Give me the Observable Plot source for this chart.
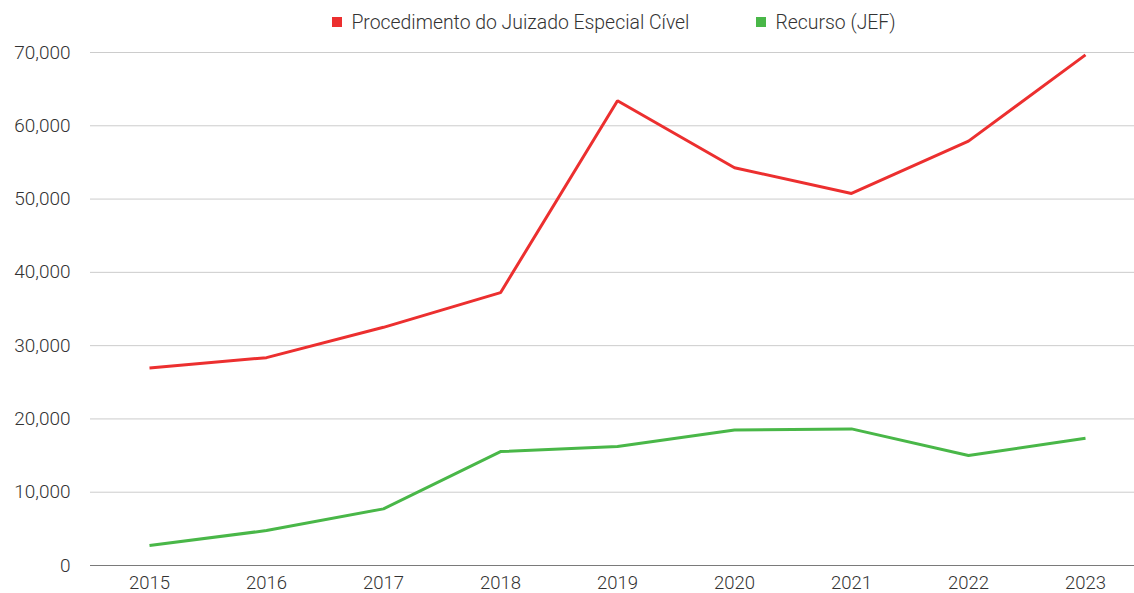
<!DOCTYPE html>
<html>
<head>
<meta charset="utf-8">
<script src="https://cdn.jsdelivr.net/npm/d3@7"></script>
<script src="https://cdn.jsdelivr.net/npm/@observablehq/plot@0.6"></script>
<style>
  html, body { margin: 0; padding: 0; background: #fff; }
  body { width: 1134px; height: 593px; overflow: hidden; font-family: Roboto, "Noto Sans", sans-serif; }
  #legend { height: 42px; box-sizing: border-box; padding-left: 94px; padding-top: 2px; display: flex; justify-content: center; align-items: center; gap: 67px; font-size: 19.4px; font-weight: 300; color: #333; }
  #legend .item { display: flex; align-items: center; }
  #legend .sw { width: 10px; height: 10px; margin-right: 9px; }
  #chart svg { display: block; }
</style>
</head>
<body>
<div id="legend"></div>
<div id="chart"></div>
<script>
const years = ["2015","2016","2017","2018","2019","2020","2021","2022","2023"];
const seriesNames = ["Procedimento do Juizado Especial Cível", "Recurso (JEF)"];
const procedimento = [26950, 28360, 32500, 37230, 63410, 54270, 50770, 57910, 69680];
const recurso = [2730, 4770, 7730, 15550, 16230, 18500, 18640, 15000, 17360];
const yTicks = [0, 10000, 20000, 30000, 40000, 50000, 60000, 70000];
const colors = ["#ec2f2f", "#49b748"];

const data = [];
years.forEach((y, i) => {
  data.push({year: y, series: seriesNames[0], value: procedimento[i]});
  data.push({year: y, series: seriesNames[1], value: recurso[i]});
});

const legend = document.getElementById("legend");
seriesNames.forEach((s, i) => {
  const it = document.createElement("div");
  it.className = "item";
  const sw = document.createElement("span");
  sw.className = "sw";
  sw.style.background = colors[i];
  const t = document.createElement("span");
  t.textContent = s;
  it.appendChild(sw); it.appendChild(t);
  legend.appendChild(it);
});

const fmt = d3.format(",");
const chart = Plot.plot({
  width: 1134,
  height: 551,
  marginLeft: 90,
  marginRight: 0,
  marginTop: 10,
  marginBottom: 28,
  style: { fontFamily: "Roboto, 'Noto Sans', sans-serif", fontSize: "19px", fontWeight: 300, color: "#333", background: "#fff", overflow: "visible" },
  x: { type: "point", domain: years, range: [149, 1085], padding: 0, label: null },
  y: { domain: [0, 70000], label: null },
  color: { domain: seriesNames, range: colors },
  marks: [
    Plot.ruleY(yTicks.filter(d => d > 0), { stroke: "#cccccc", strokeWidth: 1 }),
    Plot.ruleY([0], { stroke: "#7a7a7a", strokeWidth: 1 }),
    Plot.axisY(yTicks, { tickSize: 0, tickPadding: 20, tickFormat: fmt, label: null, fill: "#333" }),
    Plot.axisX(years, { tickSize: 0, tickPadding: 10, fontSize: 18.5, label: null, fill: "#333" }),
    Plot.line(data, { x: "year", y: "value", z: "series", stroke: "series", strokeWidth: 3, strokeLinejoin: "miter", strokeLinecap: "butt" })
  ]
});
document.getElementById("chart").appendChild(chart);
</script>
</body>
</html>
